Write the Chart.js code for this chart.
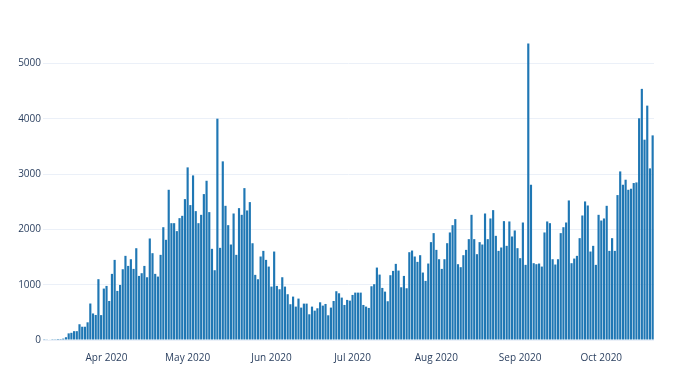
<!DOCTYPE html>
<html>
<head>
<meta charset="utf-8">
<script src="https://cdn.jsdelivr.net/npm/chart.js@4/dist/chart.umd.min.js"></script>
<style>
  body { margin: 0; background: #fff; }
  #wrap { width: 680px; height: 376px; }
</style>
</head>
<body>
<div id="wrap"><canvas id="bar-chart"></canvas></div>
<script>
// daily values, 9 Mar 2020 .. 20 Oct 2020
const march = [15,12,10,15,14,18,17,25,50,120,130,160,160,285,240,240,320,660,480,453,1100,450,930];
const april = [978,706,1196,1449,888,996,1280,1522,1340,1461,1286,1660,1159,1208,1340,1135,1836,1570,1196,1147,1540,2040,1812,2717,2113,2113,1969,2204,2246,2548];
const may = [3122,2440,2977,2331,2113,2264,2639,2880,2313,1649,1262,4003,1667,3231,2427,2077,1727,2288,1540,2385,2264,2747,2343,2494,1750,1178,1099,1510,1612,1449,1328];
const june = [966,1600,978,918,1135,966,828,647,785,604,749,586,658,658,465,604,531,574,682,622,652,447,586,706,882,845,767,634,725,712];
const july = [815,857,857,857,634,604,580,972,1009,1310,1183,942,875,701,1172,1250,1377,1256,954,1159,936,1588,1618,1510,1413,1534,1220,1069,1383,1770,1933];
const august = [1630,1461,1286,1461,1751,1945,2077,2186,1371,1317,1534,1630,1824,2264,1824,1552,1770,1727,2288,1824,2198,2349,1884,1612,1673,2150,1703,2144,1872,1981,1661];
const september = [1480,2125,1359,5361,2808,1389,1371,1383,1328,1945,2144,2113,1461,1365,1461,1933,2040,2125,2524,1389,1473,1522,1842,2252,2506,2433,1600,1703,1359,2264];
const october = [2161,2198,2427,1612,1842,1612,2621,3049,2808,2899,2717,2736,2839,2850,4010,4542,3623,4239,3104,3701];

const monthNames = ['Jan','Feb','Mar','Apr','May','Jun','Jul','Aug','Sep','Oct','Nov','Dec'];
const yTicks = [0,1000,2000,3000,4000,5000];

const values = [].concat(march, april, may, june, july, august, september, october);

// one category per day
const days = [];
for (let i = 0; i < values.length; i++) {
    days.push(new Date(Date.UTC(2020, 2, 9 + i)));
}

const ctx = document.getElementById('bar-chart');
const myChart = new Chart(ctx, {
    type: 'bar',
    data: {
        labels: days.map(d => d.toISOString().slice(0, 10)),
        datasets: [{
            data: values,
            backgroundColor: '#1f77b4',
            borderWidth: 0,
            barPercentage: 0.8,
            categoryPercentage: 1.0
        }]
    },
    options: {
        responsive: true,
        maintainAspectRatio: false,
        animation: false,
        layout: { padding: { top: 28, right: 26, left: 0, bottom: 0 } },
        plugins: { legend: { display: false }, tooltip: { enabled: false } },
        scales: {
            x: {
                grid: { display: false },
                border: { display: false },
                ticks: {
                    autoSkip: false,
                    maxRotation: 0,
                    padding: 4,
                    color: '#2a3f5f',
                    font: { family: 'Open Sans', size: 10 },
                    callback: function(val, i) {
                        const d = days[i];
                        return d.getUTCDate() === 1 ? monthNames[d.getUTCMonth()] + ' ' + d.getUTCFullYear() : '';
                    }
                },
                afterFit: s => { s.height = 36; }
            },
            y: {
                min: 0,
                max: 5643,
                grid: {
                    drawTicks: false,
                    color: '#ebf0f8'
                },
                border: { display: false },
                ticks: {
                    padding: 2,
                    color: '#2a3f5f',
                    font: { family: 'Open Sans', size: 10 },
                    callback: v => String(v)
                },
                afterBuildTicks: s => { s.ticks = yTicks.map(v => ({ value: v })); },
                afterFit: s => { s.width = 43; }
            }
        }
    }
});
</script>
</body>
</html>
